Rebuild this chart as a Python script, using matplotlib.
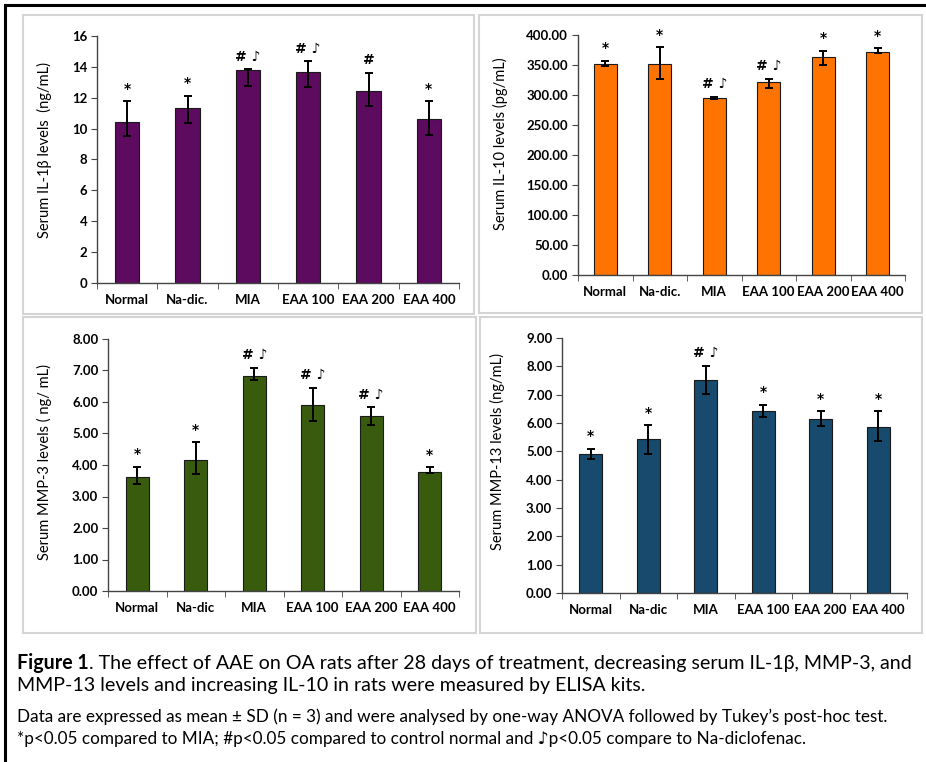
import matplotlib
matplotlib.use("Agg")
import matplotlib.pyplot as plt
from matplotlib.patches import Rectangle
from matplotlib.lines import Line2D

plt.rcParams['font.family'] = ['Lato', 'DejaVu Sans']

groups_a = ['Normal', 'Na-dic.', 'MIA', 'EAA 100', 'EAA 200', 'EAA 400']
groups_b = ['Normal', 'Na-dic', 'MIA', 'EAA 100', 'EAA 200', 'EAA 400']

# IL-1beta (ng/mL)
il1b_mean = [10.45, 11.35, 13.77, 13.66, 12.42, 10.60]
il1b_up = [11.78, 12.14, 13.86, 14.35, 13.60, 11.78]
il1b_lo = [9.49, 10.34, 12.74, 12.68, 11.44, 9.60]
il1b_sig = ['*', '*', '# \u266a', '# \u266a', '#', '*']

# IL-10 (pg/mL)
il10_mean = [351.6, 351.6, 294.3, 321.0, 362.7, 372.2]
il10_up = [356.6, 379.4, 297.0, 327.1, 373.9, 377.7]
il10_lo = [348.8, 327.1, 292.6, 311.5, 349.4, 369.4]
il10_sig = ['*', '*', '# \u266a', '# \u266a', '*', '*']

# MMP-3 (ng/mL)
mmp3_mean = [3.63, 4.16, 6.84, 5.90, 5.54, 3.79]
mmp3_up = [3.94, 4.72, 7.08, 6.45, 5.83, 3.93]
mmp3_lo = [3.39, 3.72, 6.69, 5.40, 5.28, 3.74]
mmp3_sig = ['*', '*', '# \u266a', '# \u266a', '# \u266a', '*']

# MMP-13 (ng/mL)
mmp13_mean = [4.92, 5.44, 7.51, 6.41, 6.14, 5.86]
mmp13_up = [5.09, 5.92, 8.02, 6.64, 6.42, 6.42]
mmp13_lo = [4.74, 4.92, 7.04, 6.21, 5.88, 5.38]
mmp13_sig = ['*', '*', '# \u266a', '*', '*', '*']

fig = plt.figure(figsize=(9.26, 7.62), dpi=100)
W, H = 926, 762

def px_rect(x0, y0, x1, y1):
    return [x0 / W, 1 - y1 / H, (x1 - x0) / W, (y1 - y0) / H]

# panel frames
for x0, y0, x1, y1 in [(23, 15, 474, 314), (479, 15, 922, 313),
                       (23, 317, 476, 633), (480, 317, 922, 633)]:
    fig.add_artist(Rectangle((x0 / W, 1 - y1 / H), (x1 - x0) / W, (y1 - y0) / H,
                             transform=fig.transFigure, fill=False,
                             edgecolor='#d4d4d4', lw=1.5))

# outer black border (left and top)
fig.add_artist(Line2D([5 / W, 5 / W], [0, 1 - 5 / H], transform=fig.transFigure,
                      color='black', lw=2.2))
fig.add_artist(Line2D([5 / W, 1], [1 - 5 / H, 1 - 5 / H], transform=fig.transFigure,
                      color='black', lw=2.2))

panels = [
    dict(rect=px_rect(97, 36, 459, 283), names=groups_a, mean=il1b_mean, up=il1b_up,
         lo=il1b_lo, sig=il1b_sig, color='#5d0b5e', ymax=16, step=2, fmt='{:.0f}',
         ylabel='Serum IL-1\u03b2 levels  (ng/mL)', lab=(-0.124, 0.54), width=0.40),
    dict(rect=px_rect(578, 35, 905, 275), names=groups_a, mean=il10_mean, up=il10_up,
         lo=il10_lo, sig=il10_sig, color='#ff7300', ymax=400, step=50, fmt='{:.2f}',
         ylabel='Serum IL-10 levels (pg/mL)', lab=(-0.214, 0.546), width=0.42),
    dict(rect=px_rect(108, 339, 459, 591), names=groups_b, mean=mmp3_mean, up=mmp3_up,
         lo=mmp3_lo, sig=mmp3_sig, color='#385b0e', ymax=8, step=1, fmt='{:.2f}',
         ylabel='Serum MMP-3 levels ( ng/ mL)', lab=(-0.16, 0.512), width=0.39),
    dict(rect=px_rect(562, 338, 907, 593), names=groups_b, mean=mmp13_mean, up=mmp13_up,
         lo=mmp13_lo, sig=mmp13_sig, color='#174a6c', ymax=9, step=1, fmt='{:.2f}',
         ylabel='Serum MMP-13 levels (ng/mL)', lab=(-0.165, 0.553), width=0.40),
]

for p in panels:
    ax = fig.add_axes(p['rect'])
    xs = list(range(len(p['names'])))
    err = [[m - l for m, l in zip(p['mean'], p['lo'])],
           [u - m for m, u in zip(p['mean'], p['up'])]]
    ax.bar(xs, p['mean'], width=p['width'], color=p['color'], edgecolor='#1a1a1a',
           linewidth=0.8, zorder=2)
    ax.errorbar(xs, p['mean'], yerr=err, fmt='none', ecolor='black', elinewidth=1.4,
                capsize=2.8, capthick=1.4, zorder=3)
    for x, u, s in zip(xs, p['up'], p['sig']):
        ax.annotate(s, (x, u), xytext=(0, 4), textcoords='offset points',
                    ha='center', va='bottom', fontsize=10, fontweight='bold',
                    family=['DejaVu Sans'])
    ax.set_xlim(-0.5, len(xs) - 0.5)
    ax.set_ylim(0, p['ymax'])
    ticks = [i * p['step'] for i in range(int(p['ymax'] / p['step']) + 1)]
    ax.set_yticks(ticks)
    ax.set_yticklabels([p['fmt'].format(t) for t in ticks], fontsize=9.5, fontweight='bold')
    ax.set_xticks(xs)
    ax.set_xticklabels(p['names'], fontsize=9.5, fontweight='bold')
    ax.tick_params(axis='x', length=0, pad=8)
    ax.set_xticks([i - 0.5 for i in range(len(xs) + 1)], minor=True)
    ax.tick_params(axis='x', which='minor', length=4, color='#444444', direction='out')
    ax.tick_params(axis='y', length=4, color='#444444', direction='out', pad=3)
    for s in ['top', 'right']:
        ax.spines[s].set_visible(False)
    for s in ['left', 'bottom']:
        ax.spines[s].set_color('#444444')
        ax.spines[s].set_linewidth(1.0)
    ax.set_ylabel(p['ylabel'], fontsize=10.5)
    ax.yaxis.set_label_coords(*p['lab'])

# caption
cap_font = ['Lato', 'DejaVu Sans']
t1 = fig.text(17 / W, 1 - 663 / H, 'Figure 1', fontsize=14.1, fontweight='bold',
              va='center', family=cap_font)
fig.canvas.draw()
bb = t1.get_window_extent()
fig.text(bb.x1 / W, 1 - 663 / H,
         '. The effect of AAE on OA rats after 28 days of treatment, decreasing serum IL-1\u03b2, MMP-3, and',
         fontsize=14.1, va='center', family=cap_font)
fig.text(17 / W, 1 - 686 / H,
         'MMP-13 levels and increasing IL-10 in rats were measured by ELISA kits.',
         fontsize=14.1, va='center', family=cap_font)
fig.text(17 / W, 1 - 717 / H,
         'Data are expressed as mean \u00b1 SD (n = 3) and were analysed by one-way ANOVA followed by Tukey\u2019s post-hoc test.',
         fontsize=12.3, va='center', family=cap_font)
fig.text(17 / W, 1 - 739 / H,
         '*p<0.05 compared to MIA; #p<0.05 compared to control normal and \u266ap<0.05 compare to Na-diclofenac.',
         fontsize=12.3, va='center', family=cap_font)

fig.savefig('out.png', dpi=100)
